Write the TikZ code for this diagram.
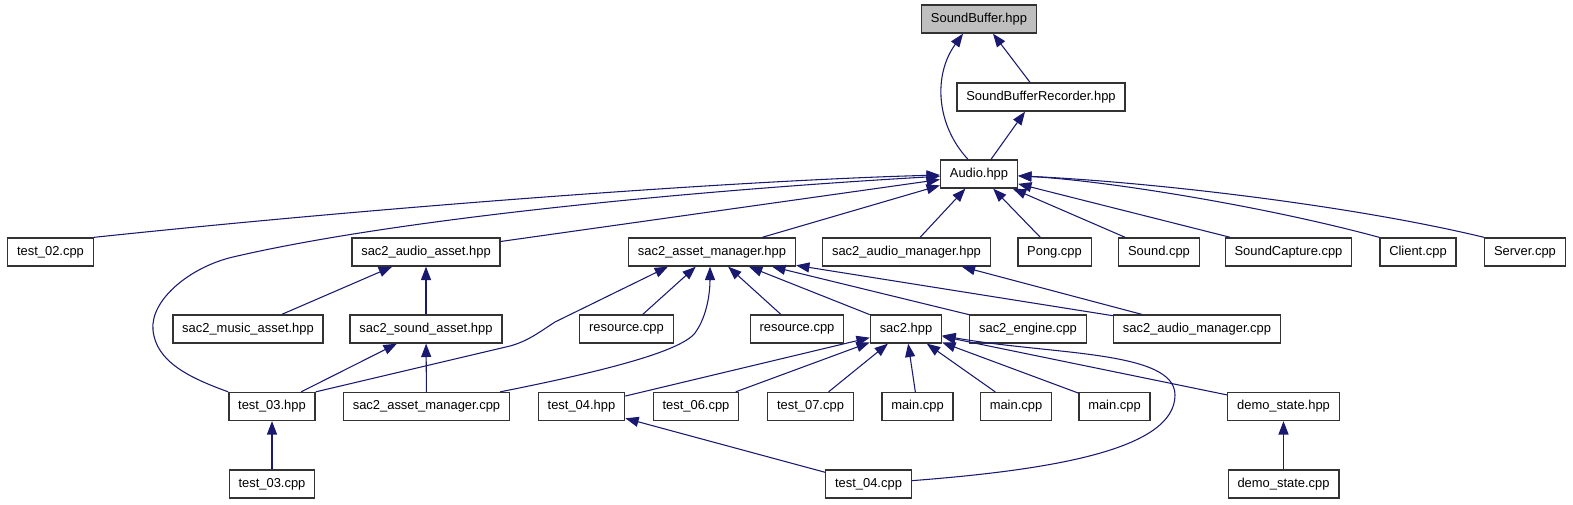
\documentclass[tikz,border=0pt]{standalone}
\usepackage{fontspec}
\setmainfont{Liberation Sans}
\usepackage{tikz}
\usetikzlibrary{arrows.meta, calc}
\definecolor{incblue}{HTML}{191970}

\begin{document}
\begin{tikzpicture}[
        x=0.75pt, y=-0.75pt,
        filebox/.style={rectangle, draw=black!80, line width=1pt, fill=white, inner xsep=7pt, minimum height=21pt, font=\fontsize{9.7}{11}\selectfont},
        rootbox/.style={filebox, fill=black!25},
        arrow/.style={->, >={Triangle[length=10pt, width=7.5pt]}, line width=0.8pt, draw=incblue}
    ]
        \useasboundingbox (0,0) rectangle (1573,504);
        \fill[white] (0,0) rectangle (1573,504);

        \node[rootbox] (sb) at (979, 19) {SoundBuffer.hpp};
        \node[filebox] (sbr) at (1041, 97) {SoundBufferRecorder.hpp};
        \node[filebox] (audio) at (979, 174) {Audio.hpp};

        \node[filebox] (test02) at (50.5, 252) {test\_02.cpp};
        \node[filebox] (audioasset) at (426, 252) {sac2\_audio\_asset.hpp};
        \node[filebox] (assetmgr) at (712, 252) {sac2\_asset\_manager.hpp};
        \node[filebox] (audiomgr) at (906.5, 252) {sac2\_audio\_manager.hpp};
        \node[filebox] (pong) at (1054.5, 252) {Pong.cpp};
        \node[filebox] (sound) at (1159, 252) {Sound.cpp};
        \node[filebox] (capture) at (1288.5, 252) {SoundCapture.cpp};
        \node[filebox] (client) at (1418, 252) {Client.cpp};
        \node[filebox] (server) at (1525, 252) {Server.cpp};

        \node[filebox] (musicasset) at (248, 329) {sac2\_music\_asset.hpp};
        \node[filebox] (soundasset) at (426, 329) {sac2\_sound\_asset.hpp};
        \node[filebox] (resource1) at (626.5, 329) {resource.cpp};
        \node[filebox] (resource2) at (797, 329) {resource.cpp};
        \node[filebox] (sactwo) at (906, 329) {sac2.hpp};
        \node[filebox] (engine) at (1028, 329) {sac2\_engine.cpp};
        \node[filebox] (audiomgrcpp) at (1197, 329) {sac2\_audio\_manager.cpp};

        \node[filebox] (test03hpp) at (272, 406.5) {test\_03.hpp};
        \node[filebox] (mgrcpp) at (426.5, 406.5) {sac2\_asset\_manager.cpp};
        \node[filebox] (test04hpp) at (581.5, 406.5) {test\_04.hpp};
        \node[filebox] (test06) at (696, 406.5) {test\_06.cpp};
        \node[filebox] (test07) at (810.5, 406.5) {test\_07.cpp};
        \node[filebox] (mainA) at (917.5, 406.5) {main.cpp};
        \node[filebox] (mainB) at (1016, 406.5) {main.cpp};
        \node[filebox] (mainC) at (1114.5, 406.5) {main.cpp};
        \node[filebox] (demohpp) at (1283.5, 406.5) {demo\_state.hpp};

        \node[filebox] (test03cpp) at (272, 484) {test\_03.cpp};
        \node[filebox] (test04cpp) at (868.5, 484) {test\_04.cpp};
        \node[filebox] (democpp) at (1283.5, 484) {demo\_state.cpp};

        \draw[arrow] ($(sbr.north)+(-11,0)$) -- ($(sb.south)+(14,0)$);
        \draw[arrow] ($(audio.north)+(-11,0)$) .. controls (936,125) and (933,75) .. ($(sb.south)+(-16,0)$);
        \draw[arrow] ($(audio.north)+(12,0)$) -- ($(sbr.south)+(-16,0)$);

        \draw[arrow] (test02.north east) .. controls (400,205) and (750,180) .. (audio);
        \draw[arrow] (test03hpp.north west) .. controls (190,378) and (156,362) .. (153,330) .. controls (150,300) and (190,267) .. (233,257) .. controls (400,218) and (700,190) .. (audio);
        \draw[arrow] (audioasset) -- (audio);
        \draw[arrow] (assetmgr) -- (audio);
        \draw[arrow] (audiomgr) -- (audio);
        \draw[arrow] (pong) -- (audio);
        \draw[arrow] (sound) -- (audio);
        \draw[arrow] (capture) -- (audio);
        \draw[arrow] (client.north west) .. controls (1260,205) and (1100,180) .. (audio);
        \draw[arrow] (server.north west) .. controls (1350,205) and (1150,182) .. (audio);

        \draw[arrow] (musicasset) -- (audioasset);
        \draw[arrow] (soundasset) -- (audioasset);
        \draw[arrow] (resource1) -- (assetmgr);
        \draw[arrow] (resource2) -- (assetmgr);
        \draw[arrow] (sactwo) -- (assetmgr);
        \draw[arrow] (engine) -- (assetmgr);
        \draw[arrow] (audiomgrcpp) -- (assetmgr);
        \draw[arrow] (audiomgrcpp) -- (audiomgr);

        \draw[arrow] (test03hpp) -- (soundasset);
        \draw[arrow] (test03hpp.north east) -- (510,346) .. controls (528,341) and (538,333) .. (555,322) -- ($(assetmgr.south)+(-44,0)$);
        \draw[arrow] (mgrcpp) -- (soundasset);
        \draw[arrow] ($(mgrcpp.north east)+(-10,0)$) .. controls (600,372) and (680,352) .. (695,333) .. controls (708,315) and (710,290) .. ($(assetmgr.south)+(-2,0)$);
        \draw[arrow] (test03cpp) -- (test03hpp);

        \draw[arrow] (test04hpp) -- (sactwo);
        \draw[arrow] (test06) -- (sactwo);
        \draw[arrow] (test07) -- (sactwo);
        \draw[arrow] (mainA) -- (sactwo);
        \draw[arrow] (mainB) -- (sactwo);
        \draw[arrow] (mainC) -- (sactwo);
        \draw[arrow] (demohpp) -- (sactwo);
        \draw[arrow] (test04cpp) .. controls (1050,470) and (1175,450) .. (1175,395) .. controls (1175,350) and (1050,355) .. (sactwo);
        \draw[arrow] (test04cpp) -- (test04hpp);
        \draw[arrow] (democpp) -- (demohpp);
    \end{tikzpicture}
\end{document}
